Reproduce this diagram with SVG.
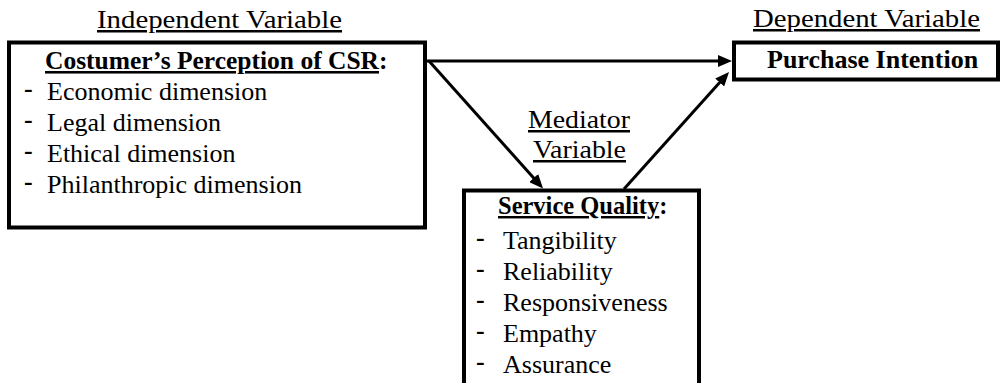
<svg xmlns="http://www.w3.org/2000/svg" width="1000" height="383" viewBox="0 0 1000 383" font-family="'Liberation Serif', 'Times New Roman', serif">
  <style>
    .box { fill: #fff; stroke: #000; stroke-width: 4; }
    .head { font-size: 25px; fill: #000; }
    .title { font-size: 25.5px; font-weight: bold; fill: #000; }
    .item { font-size: 26px; fill: #000; }
    .dash { font-size: 26px; font-weight: bold; fill: #000; }
    .ul { text-decoration: underline; }
    .conn { stroke: #000; stroke-width: 3; fill: none; marker-end: url(#ah); }
  </style>
  <defs>
    <marker id="ah" viewBox="0 0 14 12" refX="6" refY="6" markerWidth="14" markerHeight="12" orient="auto" markerUnits="userSpaceOnUse">
      <path d="M0,0 L14,6 L0,12 z" fill="#000"/>
    </marker>
  </defs>
  <rect width="1000" height="383" fill="#fff"/>

  <g id="labels">
    <text class="head ul" x="97" y="28" textLength="245" lengthAdjust="spacingAndGlyphs">Independent Variable</text>
    <text class="head ul" x="753" y="27" textLength="227" lengthAdjust="spacingAndGlyphs">Dependent Variable</text>
    <text class="head ul" x="528" y="128" textLength="102" lengthAdjust="spacingAndGlyphs">Mediator</text>
    <text class="head ul" x="533" y="158" textLength="93" lengthAdjust="spacingAndGlyphs">Variable</text>
  </g>

  <g id="node-csr">
    <rect class="box" x="9" y="42.5" width="416" height="185"/>
    <text class="title" x="45" y="69"><tspan class="ul">Costumer’s Perception of CSR</tspan><tspan>:</tspan></text>
    <text class="dash" x="24" y="97">-</text>
    <text class="item" x="47" y="100">Economic dimension</text>
    <text class="dash" x="24" y="128">-</text>
    <text class="item" x="47" y="131">Legal dimension</text>
    <text class="dash" x="24" y="159">-</text>
    <text class="item" x="47" y="162">Ethical dimension</text>
    <text class="dash" x="24" y="190">-</text>
    <text class="item" x="47" y="193">Philanthropic dimension</text>
  </g>

  <g id="node-purchase">
    <rect class="box" x="734" y="42.5" width="264" height="37"/>
    <text class="title" x="767" y="68" style="font-size:26px">Purchase Intention</text>
  </g>

  <g id="node-service">
    <rect class="box" x="464" y="190.5" width="235" height="250"/>
    <text class="title" x="498" y="214" style="font-size:24.5px"><tspan class="ul">Service Quality</tspan><tspan>:</tspan></text>
    <text class="dash" x="476" y="246">-</text>
    <text class="item" x="503" y="249">Tangibility</text>
    <text class="dash" x="476" y="277">-</text>
    <text class="item" x="503" y="280">Reliability</text>
    <text class="dash" x="476" y="308">-</text>
    <text class="item" x="503" y="311">Responsiveness</text>
    <text class="dash" x="476" y="339">-</text>
    <text class="item" x="503" y="342">Empathy</text>
    <text class="dash" x="476" y="370">-</text>
    <text class="item" x="503" y="373">Assurance</text>
  </g>

  <g id="connectors">
    <line class="conn" x1="427" y1="61" x2="724" y2="61"/>
    <line class="conn" x1="429" y1="61" x2="537.7" y2="182.5"/>
    <line class="conn" x1="624" y1="189" x2="723.7" y2="78"/>
  </g>
</svg>
